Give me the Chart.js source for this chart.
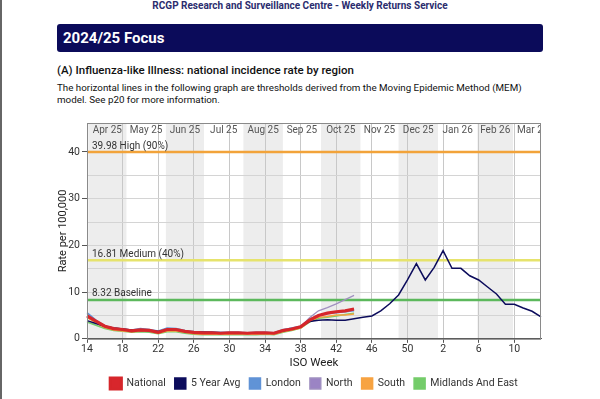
<!DOCTYPE html>
<html lang="en">
<head>
<meta charset="UTF-8">
<title>Influenza-like Illness: national incidence rate by region</title>
<script src="https://cdn.jsdelivr.net/npm/chart.js@4.4.1/dist/chart.umd.min.js"></script>
<style>
    body { margin: 0; width: 600px; height: 399px; background: #fff; font-family: Roboto, Arial, sans-serif; position: relative; overflow: hidden; }
    .edge { position: absolute; left: 0; top: 0; width: 2px; height: 399px; background: #666; }
    .top { position: absolute; top: 0; left: 0; width: 600px; text-align: center; font-size: 10px; font-weight: bold; color: #2b2d6e; line-height: 12px; }
    .bar { position: absolute; left: 57px; top: 24px; width: 486px; height: 28px; background: #0b0b5a; border-radius: 3px; color: #fff; font-weight: bold; font-size: 15px; line-height: 28px; padding-left: 6px; box-sizing: border-box; }
    h2 { position: absolute; left: 57px; top: 63px; margin: 0; font-size: 11.5px; font-weight: 500; color: #111; }
    p { position: absolute; left: 57px; top: 82px; margin: 0; font-size: 9.8px; line-height: 12px; color: #111; width: 490px; }
    #wrap { position: absolute; left: 0; top: 112px; width: 600px; height: 287px; }
</style>
</head>
<body>
<div class="edge"></div>
<div class="top">RCGP Research and Surveillance Centre - Weekly Returns Service</div>
<div class="bar">2024/25 Focus</div>
<h2>(A) Influenza-like Illness: national incidence rate by region</h2>
<p>The horizontal lines in the following graph are thresholds derived from the Moving Epidemic Method (MEM) model. See p20 for more information.</p>
<div id="wrap"><canvas id="iliChart"></canvas></div>

<script>
    // ISO weeks, week 14 2025 to week 13 2026
    const weeks = [14, 15, 16, 17, 18, 19, 20, 21, 22, 23, 24, 25, 26, 27, 28, 29, 30, 31, 32, 33, 34, 35, 36, 37, 38, 39, 40,
        41, 42, 43, 44, 45, 46, 47, 48, 49, 50, 51, 52, 1, 2, 3, 4, 5, 6, 7, 8, 9, 10, 11, 12, 13];

    const national = [4.9, 3.8, 2.7, 2.2, 2.0, 1.7, 1.9, 1.8, 1.4, 2.0, 2.0, 1.6, 1.4, 1.3, 1.3, 1.2, 1.3, 1.3, 1.2, 1.3,
        1.3, 1.2, 1.8, 2.1, 2.6, 4.0, 5.0, 5.5, 5.8, 6.0, 6.4];
    const fiveYearAvg = [3.9, 3.3, 2.7, 2.3, 2.1, 1.9, 1.8, 1.8, 1.6, 1.9, 1.9, 1.6, 1.5, 1.4, 1.4, 1.3, 1.3, 1.3, 1.3, 1.2,
        1.3, 1.2, 1.7, 2.1, 2.6, 3.7, 4.0, 4.1, 4.0, 4.0, 4.3, 4.6, 4.9, 6.0, 7.5, 9.4, 12.6, 16.1, 12.6, 15.3, 18.9, 15.1,
        15.1, 13.5, 12.6, 11.1, 9.6, 7.4, 7.4, 6.6, 5.9, 4.7];
    const london = [5.6, 4.0, 2.8, 2.3, 2.1, 1.9, 2.2, 2.0, 1.7, 2.3, 2.2, 1.8, 1.6, 1.5, 1.4, 1.4, 1.4, 1.4, 1.3, 1.4,
        1.4, 1.3, 1.9, 2.3, 2.7, 4.2, 5.0, 5.4, 5.6, 5.8, 6.0];
    const north = [5.3, 3.9, 2.8, 2.2, 2.1, 1.8, 2.1, 1.9, 1.5, 2.2, 2.1, 1.7, 1.5, 1.4, 1.4, 1.3, 1.4, 1.4, 1.3, 1.3,
        1.4, 1.3, 2.0, 2.3, 2.6, 4.5, 6.0, 6.7, 7.5, 8.4, 9.3];
    const south = [4.6, 3.4, 2.4, 1.9, 1.7, 1.5, 1.6, 1.6, 1.2, 1.7, 1.7, 1.4, 1.1, 1.0, 1.0, 1.0, 1.0, 1.1, 1.0, 1.0,
        1.1, 1.0, 1.5, 1.9, 2.3, 3.7, 4.6, 4.8, 5.1, 5.1, 5.3];
    const midlandsEast = [3.6, 2.9, 2.2, 1.8, 1.6, 1.4, 1.5, 1.4, 1.1, 1.5, 1.5, 1.2, 1.0, 0.9, 0.9, 0.9, 0.9, 0.9, 0.9, 0.9,
        1.0, 0.9, 1.4, 1.8, 2.3, 3.6, 4.4, 4.6, 4.9, 5.2, 5.5];

    // MEM thresholds
    const thresholdValues = [39.98, 16.81, 8.32];
    const thresholdNames = ['High (90%)', 'Medium (40%)', 'Baseline'];
    const thresholdColors = ['#f2a33a', '#e6e36c', '#5cb85c'];

    // month shading
    const monthLabels = ['Apr 25', 'May 25', 'Jun 25', 'Jul 25', 'Aug 25', 'Sep 25', 'Oct 25', 'Nov 25', 'Dec 25', 'Jan 26', 'Feb 26', 'Mar 26'];
    const monthStarts = ['2025-04-01', '2025-05-01', '2025-06-01', '2025-07-01', '2025-08-01', '2025-09-01', '2025-10-01',
        '2025-11-01', '2025-12-01', '2026-01-01', '2026-02-01', '2026-03-01', '2026-04-01'];
    const firstMonday = '2025-03-31'; // monday of week 14

    // date -> fractional week index on the x axis
    const weekIndex = d => (Date.parse(d) - Date.parse(firstMonday)) / (7 * 86400000);

    const backdrop = {
        id: 'backdrop',
        beforeDraw(chart) {
            const { ctx, chartArea: a, scales: { x } } = chart;
            ctx.save();
            ctx.beginPath();
            ctx.rect(a.left, a.top, a.width, a.height);
            ctx.clip();
            ctx.fillStyle = '#ededed';
            for (let m = 0; m < monthLabels.length; m += 2) {
                const x0 = x.getPixelForValue(weekIndex(monthStarts[m]));
                const x1 = x.getPixelForValue(weekIndex(monthStarts[m + 1]));
                ctx.fillRect(x0, a.top, x1 - x0, a.height);
            }
            ctx.restore();
        },
        beforeDatasetsDraw(chart) {
            const { ctx, chartArea: a, scales: { x, y } } = chart;
            ctx.save();
            ctx.beginPath();
            ctx.rect(a.left, a.top, a.width, a.height);
            ctx.clip();
            // month names along the top
            ctx.font = '10px Roboto';
            ctx.fillStyle = '#555';
            ctx.textAlign = 'center';
            ctx.textBaseline = 'middle';
            monthLabels.forEach((lbl, m) => {
                const mid = (weekIndex(monthStarts[m]) + weekIndex(monthStarts[m + 1])) / 2;
                ctx.fillText(lbl, x.getPixelForValue(mid), a.top + 7);
            });
            // threshold lines
            thresholdValues.forEach((v, i) => {
                const py = y.getPixelForValue(v);
                ctx.strokeStyle = thresholdColors[i];
                ctx.lineWidth = 2.5;
                ctx.beginPath();
                ctx.moveTo(a.left, py);
                ctx.lineTo(a.right, py);
                ctx.stroke();
                ctx.font = '10px Roboto';
                ctx.fillStyle = '#333';
                ctx.textAlign = 'left';
                ctx.textBaseline = 'bottom';
                ctx.fillText(v + ' ' + thresholdNames[i], a.left + 5, py - 1);
            });
            ctx.restore();
        },
        afterDraw(chart) {
            const { ctx, chartArea: a } = chart;
            ctx.save();
            ctx.strokeStyle = '#8a8a8a';
            ctx.lineWidth = 1;
            ctx.strokeRect(a.left + 0.5, a.top + 0.5, a.width - 1, a.height);
            ctx.restore();
        }
    };

    const ctx = document.getElementById('iliChart').getContext('2d');
    const iliChart = new Chart(ctx, {
        type: 'line',
        data: {
            labels: weeks,
            datasets: [
                { label: 'National', data: national, borderColor: '#d6262b', backgroundColor: '#d8262c', borderWidth: 3.2 },
                { label: '5 Year Avg', data: fiveYearAvg, borderColor: '#0c0c5c', backgroundColor: '#0c0c5c', borderWidth: 1.5 },
                { label: 'London', data: london, borderColor: '#6093d6', backgroundColor: '#6093d6', borderWidth: 1.5 },
                { label: 'North', data: north, borderColor: '#a090c0', backgroundColor: '#9b84c4', borderWidth: 1.3 },
                { label: 'South', data: south, borderColor: '#f7a341', backgroundColor: '#f7a341', borderWidth: 1.5 },
                { label: 'Midlands And East', data: midlandsEast, borderColor: '#74cc6a', backgroundColor: '#74cc6a', borderWidth: 1.5 }
            ]
        },
        options: {
            responsive: true,
            maintainAspectRatio: false,
            animation: false,
            elements: { point: { radius: 0 }, line: { tension: 0 } },
            layout: { padding: { left: 53, right: 59, top: 11, bottom: 0 } },
            plugins: {
                legend: {
                    position: 'bottom',
                    fullSize: false,
                    labels: {
                        boxWidth: 11, boxHeight: 11, padding: 9, color: '#333',
                        font: { size: 10.5, family: 'Roboto' },
                        sort: (a, b) => a.datasetIndex - b.datasetIndex
                    }
                },
                tooltip: { enabled: false }
            },
            scales: {
                x: {
                    border: { color: '#555' },
                    grid: {
                        color: c => c.index % 4 === 0 ? '#c8c8c8' : 'transparent',
                        tickLength: 4,
                        tickColor: c => c.index % 4 === 0 ? '#555' : 'transparent'
                    },
                    ticks: {
                        autoSkip: false, maxRotation: 0, padding: 1, color: '#333',
                        font: { size: 10.5, family: 'Roboto', lineHeight: 1 },
                        callback: (v, i) => i % 4 === 0 ? weeks[i] : ''
                    },
                    title: {
                        display: true, text: 'ISO Week', color: '#222',
                        font: { size: 11.5, family: 'Roboto', lineHeight: 1.1 },
                        padding: { top: 1, bottom: 0 }
                    }
                },
                y: {
                    min: 0,
                    max: 46.2,
                    afterFit(s) { s.width = 34; },
                    border: { color: '#555' },
                    grid: {
                        color: '#d4d4d4',
                        tickLength: 5,
                        tickColor: c => c.tick && c.tick.value % 10 === 0 ? '#555' : 'transparent'
                    },
                    ticks: {
                        stepSize: 5, padding: 2, color: '#333',
                        font: { size: 10.5, family: 'Roboto' },
                        callback: v => v % 10 === 0 ? v : ''
                    },
                    title: {
                        display: true, text: 'Rate per 100,000', color: '#222',
                        font: { size: 11, family: 'Roboto' },
                        padding: { top: 4, bottom: 0 }
                    }
                }
            }
        },
        plugins: [backdrop]
    });
</script>
</body>
</html>
